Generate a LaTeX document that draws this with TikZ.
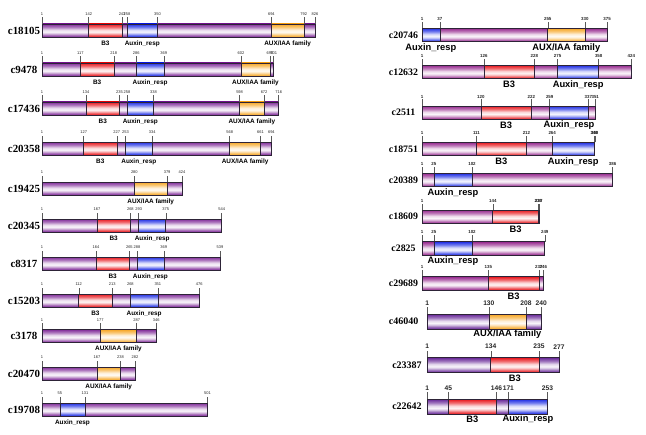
\documentclass[tikz,border=0pt]{standalone}
\usepackage{fontspec}
\setmainfont{Liberation Sans}
\newfontfamily\namefont{Liberation Serif}
\definecolor{pL}{RGB}{128,42,152}
\definecolor{pR}{RGB}{150,40,142}
\definecolor{pB}{RGB}{104,40,152}
\definecolor{rd}{RGB}{232,22,28}
\definecolor{bl}{RGB}{30,45,228}
\definecolor{og}{RGB}{246,166,36}
\definecolor{barline}{RGB}{45,35,55}
\newcommand{\mkshade}[2]{\pgfdeclareverticalshading{#1}{100bp}{color(0bp)=(#2); color(25bp)=(#2); color(31bp)=(#2!75!white); color(39bp)=(#2!28!white); color(45bp)=(#2!5!white); color(53bp)=(#2!18!white); color(63bp)=(#2!62!white); color(75bp)=(#2); color(100bp)=(#2)}}
\mkshade{shL}{pL}
\mkshade{shR}{pR}
\mkshade{shPB}{pB}
\mkshade{shB}{rd}
\mkshade{shA}{bl}
\mkshade{shF}{og}
\def\labB{B3}
\def\labA{Auxin\_resp}
\def\labF{AUX/IAA family}
\tikzset{
  namestyle/.style={font=\namefont\bfseries\fontsize{\namesz}{\namesz}\selectfont, inner sep=0pt},
  numlab/.style={font=\numfont, inner sep=0pt, text=black!85},
  domlab/.style={font=\domfont, inner sep=0pt},
  tickline/.style={draw=black!65, line width=0.35pt},
  outline/.style={draw=barline, line width=0.45pt},
}
% #1 id, #2 ytop, #3 length, #4 domains, #5 numbers, #6 name x
\newcommand{\prot}[6]{%
  \pgfmathsetmacro{\xe}{\xo+(#3-1)*\sc}%
  \pgfmathsetmacro{\yb}{#2+\bh}%
  \node[namestyle] (n#1) at (#6,{#2+\bh/2}) {c#1};
  \path[shading=\bsh] (\xo,#2) rectangle (\xe,\yb);
  \foreach \a/\b/\c in {#4}{%
    \pgfmathsetmacro{\xa}{\xo+(\a-1)*\sc}%
    \pgfmathsetmacro{\xb}{\xo+(\b-1)*\sc}%
    \path[shading=sh\c, outline] (\xa,#2) rectangle (\xb,\yb);
    \node[domlab] (d#1x\a) at ({(\xa+\xb)/2},{\yb+\domdy}) {\csname lab\c\endcsname};
  }
  \foreach \p in {#5}{%
    \pgfmathsetmacro{\xp}{\xo+(\p-1)*\sc}%
    \draw[tickline] (\xp,#2) -- (\xp,{#2-\tickl});
    \node[numlab] (l#1x\p) at (\xp,{#2-\numdy}) {\p};
  }
  \path[outline] (\xo,#2) rectangle (\xe,\yb);
}
\begin{document}
\begin{tikzpicture}[x=0.75pt,y=-0.75pt]
\useasboundingbox (0,0) rectangle (646,435);
% ---------- left column ----------
\def\xo{42}\def\sc{0.331}\def\bh{13}\def\bsh{shL}
\def\numdy{9.5}\def\tickl{6.5}\def\domdy{6.5}
\def\namesz{8.2}
\def\numfont{\fontsize{3}{3}\selectfont}
\def\domfont{\bfseries\fontsize{4.8}{4.8}\selectfont}
\prot{18105}{24}{826}{142/243/B,258/350/A,694/792/F}{1,142,243,258,350,694,792,826}{24}
\prot{9478}{63}{701}{117/218/B,286/369/A,602/690/F}{1,117,218,286,369,602,690,701}{24}
\prot{17436}{102}{716}{134/235/B,258/338/A,598/672/F}{1,134,235,258,338,598,672,716}{24}
\prot{20358}{142}{694}{127/227/B,253/334/A,568/661/F}{1,127,227,253,334,568,661,694}{24}
\prot{19425}{182}{424}{280/379/F}{1,280,379,424}{24}
\prot{20345}{219}{544}{167/268/B,293/375/A}{1,167,268,293,375,544}{24}
\prot{8317}{257}{539}{164/265/B,288/369/A}{1,164,265,288,369,539}{24}
\prot{15203}{294}{476}{112/213/B,268/351/A}{1,112,213,268,351,476}{24}
\prot{3178}{329.5}{346}{177/287/F}{1,177,287,346}{24}
\prot{20470}{367}{282}{167/238/F}{1,167,238,282}{24}
\prot{19708}{403}{501}{55/131/A}{1,55,131,501}{24}
% ---------- right column ----------
\def\xo{422}\def\sc{0.495}\def\bh{13.4}\def\bsh{shR}
\def\numdy{9.5}\def\tickl{6.5}\def\domdy{6}
\def\namesz{7.4}
\def\numfont{\bfseries\fontsize{3.3}{3.3}\selectfont}
\def\domfont{\bfseries\fontsize{7}{7}\selectfont}
\prot{20746}{28.3}{375}{1/37/A,255/330/F}{1,37,255,330,375}{403.5}
\prot{12632}{65.3}{424}{126/228/B,275/358/A}{1,126,228,275,358,424}{403.5}
\prot{2511}{106}{351}{120/222/B,259/337/A}{1,120,222,259,337,351}{403.5}
\prot{18751}{142.3}{350}{111/212/B,264/349/A}{1,111,212,264,349,350}{403.5}
\prot{20389}{173.3}{386}{25/102/A}{1,25,102,386}{403.5}
\prot{18609}{210}{237}{144/236/B}{1,144,236,237}{403.5}
\prot{2825}{241.7}{249}{25/102/A}{1,25,102,249}{403.5}
\prot{29689}{276.7}{246}{135/237/B}{1,135,237,246}{403.5}
% ---------- bottom right ----------
\def\xo{427.3}\def\sc{0.477}\def\bh{14.7}\def\bsh{shPB}
\def\numdy{11}\def\tickl{7}\def\domdy{5.5}
\def\namesz{7.5}
\def\numfont{\bfseries\fontsize{5}{5}\selectfont}
\def\domfont{\bfseries\fontsize{7}{7}\selectfont}
\prot{46040}{314.3}{240}{130/208/F}{1,130,208,240}{403.7}
\prot{23387}{357.7}{277}{134/235/B}{1,134,235,277}{407}
\prot{22642}{399.3}{253}{45/146/B,171/253/A}{1,45,146,171,253}{407}
\end{tikzpicture}
\end{document}
